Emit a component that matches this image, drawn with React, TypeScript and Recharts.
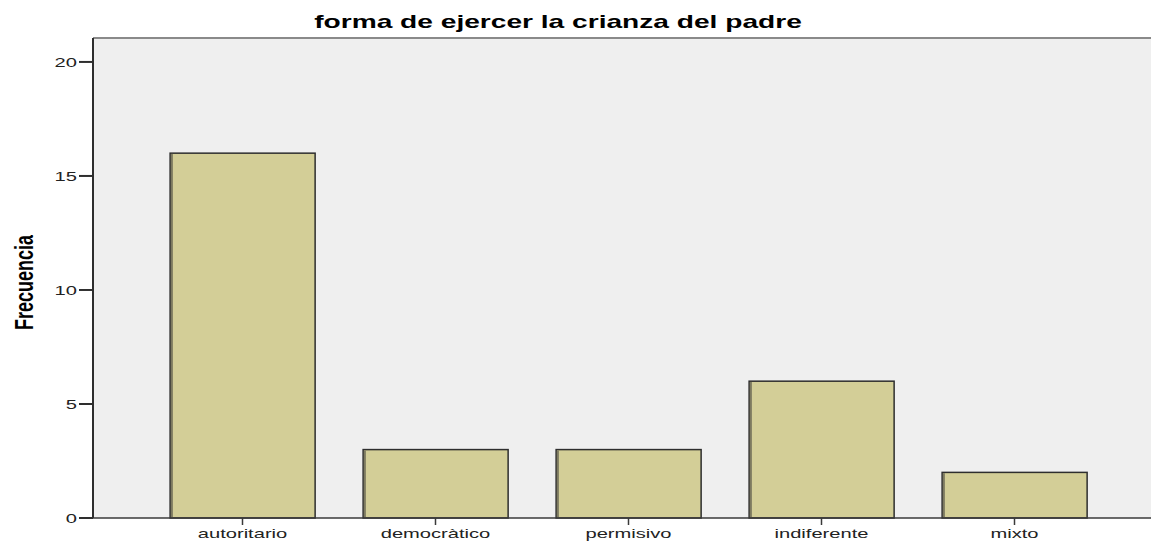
import React from "react";
import { Bar, BarChart, XAxis, YAxis } from "recharts";

const categories = ["autoritario", "democràtico", "permisivo", "indiferente", "mixto"];
const frecuencias = [16, 3, 3, 6, 2];
const yTicks = [0, 5, 10, 15, 20];
const yMax = 21.05;

const data = categories.map((c, i) => ({ categoria: c, frecuencia: frecuencias[i] }));

const FONT = "'Liberation Sans', Arial, sans-serif";
const STRETCH = 1.55;

function XTick(props: any) {
  const { x, y, payload } = props;
  return (
    <g transform={`translate(${x},${y}) scale(${STRETCH},1)`}>
      <text x={0} y={0} dy="0.71em" textAnchor="middle" fontSize={13} fontFamily={FONT} fill="#222">
        {payload.value}
      </text>
    </g>
  );
}

function YTick(props: any) {
  const { x, y, payload } = props;
  return (
    <g transform={`translate(${x},${y}) scale(${STRETCH},1)`}>
      <text x={0} y={0} dy="0.355em" textAnchor="end" fontSize={13} fontFamily={FONT} fill="#222">
        {payload.value}
      </text>
    </g>
  );
}

function BarShape(props: any) {
  const { x, y, width, height } = props;
  return (
    <g>
      <rect x={x} y={y} width={width} height={height} fill="#d3ce97" stroke="#2e2e2e" strokeWidth={1.5} />
      <rect x={x + 0.75} y={y + 0.75} width={2} height={Math.max(height - 1.5, 0)} fill="#7d7a60" />
    </g>
  );
}

export default function App() {
  return (
    <div style={{ position: "absolute", left: 0, top: 0, width: 1151, height: 541, background: "#fff", overflow: "hidden" }}>
      {/* fondo y borde superior del área de trazado */}
      <div
        style={{
          position: "absolute",
          left: 93,
          top: 37,
          width: 1070,
          height: 481,
          background: "#efefef",
          borderTop: "2px solid #8a8a8a",
          boxSizing: "border-box",
        }}
      />
      <div
        style={{
          position: "absolute",
          left: 558,
          top: 12,
          transform: `translateX(-50%) scaleX(1.48)`,
          fontFamily: FONT,
          fontWeight: "bold",
          fontSize: 19,
          lineHeight: "19px",
          whiteSpace: "nowrap",
          color: "#000",
        }}
      >
        forma de ejercer la crianza del padre
      </div>
      <div style={{ position: "absolute", left: 0, top: 0 }}>
        <BarChart
          width={1151}
          height={541}
          data={data}
          margin={{ top: 38, right: 0, left: 33, bottom: 0 }}
          barCategoryGap="12.5%"
        >
          <XAxis
            dataKey="categoria"
            height={23}
            padding={{ left: 53, right: 40 }}
            tickSize={7}
            tickMargin={4}
            stroke="#3a3a3a"
            strokeWidth={1.5}
            tick={<XTick />}
          />
          <YAxis
            width={60}
            domain={[0, yMax]}
            ticks={yTicks}
            allowDecimals={false}
            tickSize={14}
            tickMargin={2}
            stroke="#2e2e2e"
            strokeWidth={2}
            tick={<YTick />}
            label={{
              content: () => (
                <text
                  transform={`translate(33,282.5) scale(1.45,1) rotate(-90)`}
                  textAnchor="middle"
                  fontSize={18}
                  fontWeight="bold"
                  fontFamily={FONT}
                  fill="#000"
                >
                  Frecuencia
                </text>
              ),
            }}
          />
          <Bar dataKey="frecuencia" shape={<BarShape />} isAnimationActive={false} />
        </BarChart>
      </div>
    </div>
  );
}
